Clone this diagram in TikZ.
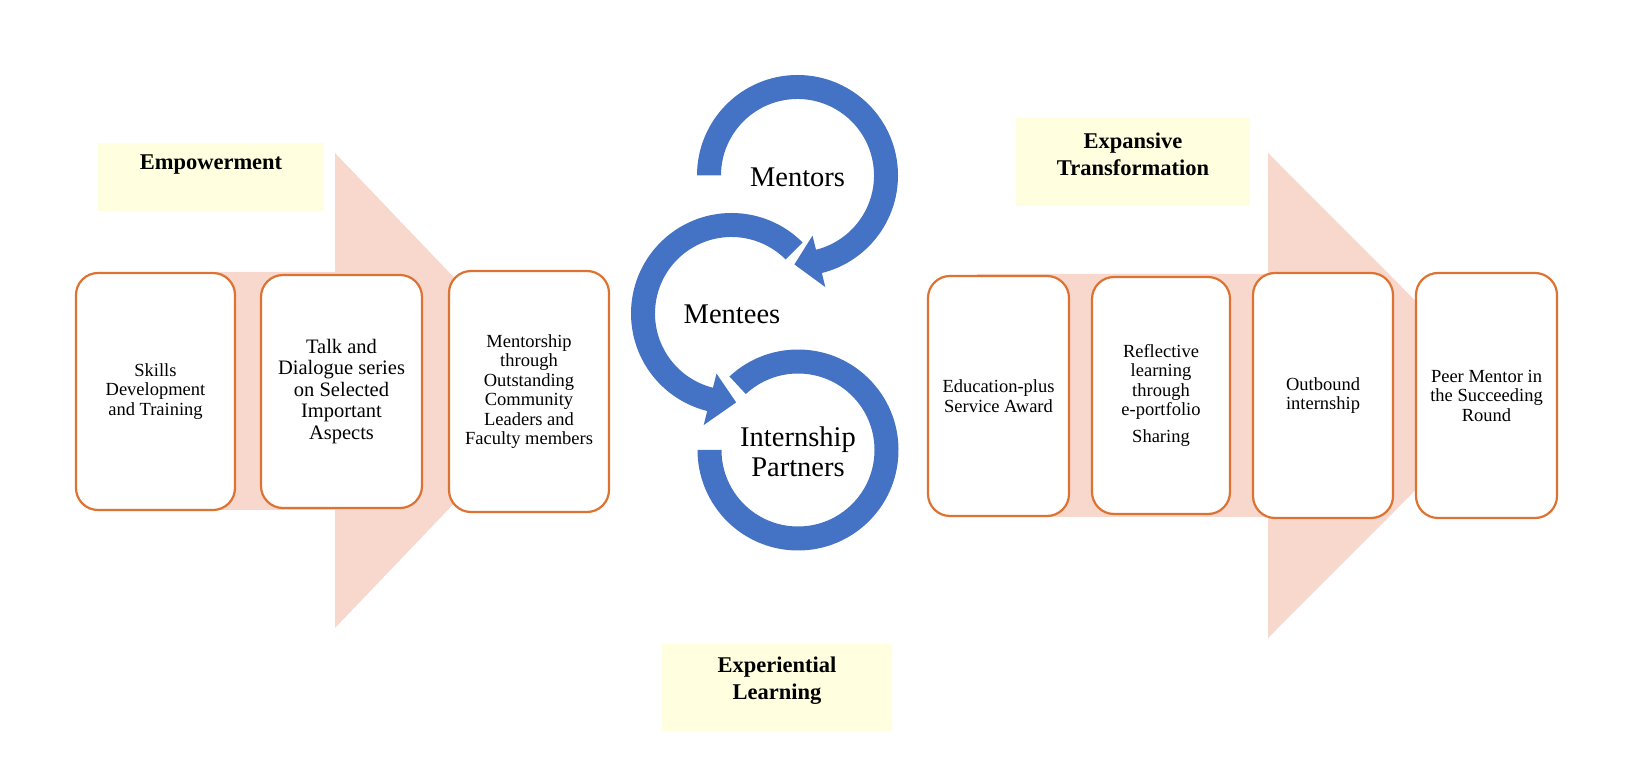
\documentclass[tikz,border=0pt]{standalone}
\usepackage{fontspec}
\setmainfont{Liberation Serif}
\usetikzlibrary{calc}
\definecolor{ringblue}{HTML}{4472C4}
\definecolor{boxorange}{HTML}{DD7332}
\definecolor{arrowpink}{HTML}{F8D7CC}
\definecolor{noteyellow}{HTML}{FFFFE0}
\begin{document}
\begin{tikzpicture}[x=1pt,y=1pt,
  stepbox/.style={draw=boxorange, line width=2.2pt, fill=white, rounded corners=22pt,
    inner sep=0pt, align=center, font=\fontsize{18.5}{19.5}\selectfont},
  note/.style={fill=noteyellow, inner sep=0pt},
  notetext/.style={font=\fontsize{22.5}{27}\selectfont\bfseries, align=center, inner sep=0pt},
  ringtext/.style={font=\fontsize{28.5}{29.5}\selectfont, align=center, inner sep=0pt},
  bigarrow/.style={fill=arrowpink},
  ring/.style={fill=ringblue}]
\useasboundingbox (0,0) rectangle (1651,763);

% background block arrows
\fill[bigarrow] (217,491) -- (335,491) -- (335,610) -- (562,372.5) -- (335,135) -- (335,253) -- (217,253) -- cycle;
\fill[bigarrow] (977,489) -- (1268,489) -- (1268,610) -- (1510,367.5) -- (1268,125) -- (1268,246) -- (977,246) -- cycle;

% left boxes
\node[stepbox, minimum width=159pt, minimum height=237pt] (b1) at (155.5,371.5) {Skills\\Development\\and Training};
\node[stepbox, minimum width=161pt, minimum height=233pt, font=\fontsize{20.5}{21.5}\selectfont] (b2) at (341.5,371.5) {Talk and\\Dialogue series\\on Selected\\Important\\Aspects};
\node[stepbox, minimum width=160pt, minimum height=241pt] (b3) at (529,371.5) {Mentorship\\through\\Outstanding\\Community\\Leaders and\\Faculty members};

% right boxes
\node[stepbox, minimum width=141pt, minimum height=240pt] (bA) at (998.5,367) {Education-plus\\Service Award};
\node[stepbox, minimum width=138pt, minimum height=237pt] (bB) at (1161,367.5) {Reflective\\learning\\through\\e-portfolio\\[7.5pt]Sharing};
\node[stepbox, minimum width=140pt, minimum height=245pt] (bC) at (1323,367.5) {Outbound\\internship};
\node[stepbox, minimum width=141pt, minimum height=245pt] (bD) at (1486.5,367.5) {Peer Mentor in\\the Succeeding\\Round};

% yellow title boxes
\node[note, minimum width=226pt, minimum height=68pt] (empbox) at (211,586) {};
\node[notetext] (emptext) at (211,598) {Empowerment};
\node[note, minimum width=234pt, minimum height=88pt] (expbox) at (1133,601) {};
\node[notetext] (exptext) at (1133,608.5) {Expansive\\Transformation};
\node[note, minimum width=230pt, minimum height=87pt] (explbox) at (777,75.5) {};
\node[notetext] (expltext) at (777,82) {Experiential\\Learning};

% circular arrows
\coordinate (c1) at (797.5,587.5);
\coordinate (c2) at (731.5,449.5);
\coordinate (c3) at (798,313);
\fill[ring] ($(c1)+(180:100.5)$) arc[start angle=180, end angle=-76, radius=100.5]
  -- ($(c1)+(-76:115)$) -- ($(c1)+(-92:89)$) -- ($(c1)+(-76:62)$) -- ($(c1)+(-76:76.5)$)
  arc[start angle=-76, end angle=180, radius=76.5] -- cycle;
\fill[ring] ($(c2)+(45:100.5)$) arc[start angle=45, end angle=256, radius=100.5]
  -- ($(c2)+(256:115)$) -- ($(c2)+(273:89)$) -- ($(c2)+(256:62)$) -- ($(c2)+(256:76.5)$)
  arc[start angle=256, end angle=45, radius=76.5] -- cycle;
\fill[ring] ($(c3)+(133:100.5)$) arc[start angle=133, end angle=-180, radius=100.5]
  -- ($(c3)+(-180:76.5)$) arc[start angle=-180, end angle=133, radius=76.5] -- cycle;

\node[ringtext] (mentors) at (797.5,586) {Mentors};
\node[ringtext] (mentees) at (732,449) {Mentees};
\node[ringtext] (partners) at (798,311) {Internship\\Partners};
\end{tikzpicture}
\end{document}
